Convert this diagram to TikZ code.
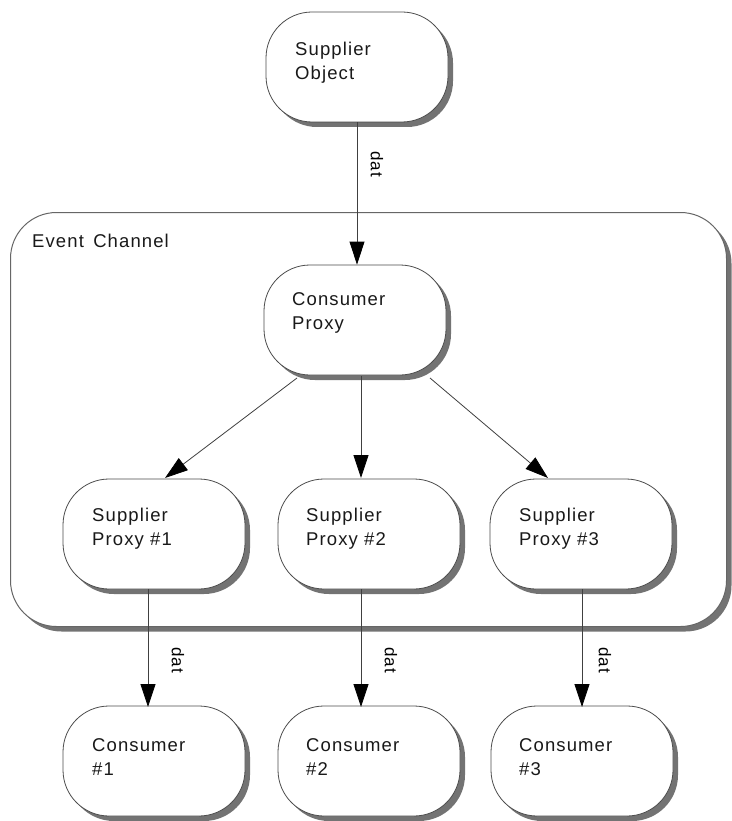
\documentclass[tikz,border=0pt]{standalone}
\usepackage{fontspec}
\setmainfont{Liberation Sans}[LetterSpace=6]
\usetikzlibrary{arrows.meta,shadows}
\begin{document}
\begin{tikzpicture}[x=1pt,y=-1pt,
  lbl/.style={font=\fontsize{18.5}{24}\selectfont, align=left, anchor=north west, inner sep=0pt, text=black!90},
  pill/.style={draw=black!70, line width=0.8pt, fill=white, rounded corners=46pt,
    minimum width=182pt, minimum height=110pt,
    drop shadow={shadow xshift=5pt, shadow yshift=-5pt, fill=black!55, opacity=1}},
  flow/.style={draw=black!75, line width=0.8pt, -{Triangle[length=23pt,width=15pt,fill=black,color=black]}},
  datlbl/.style={font=\fontsize{17}{20}\selectfont, rotate=-90, inner sep=0pt}]
\useasboundingbox (0,0) rectangle (731,821);

% event channel container
\node[draw=black!60, line width=1pt, fill=white, rounded corners=46pt,
  minimum width=716pt, minimum height=414pt,
  drop shadow={shadow xshift=5pt, shadow yshift=-5pt, fill=black!55, opacity=1}]
  (channel) at (368.5,419.5) {};
\node[lbl] (channeltxt) at (32,234) {Event\, Channel};

% supplier and proxies
\node[pill] (sobj) at (357,67) {};
\node[lbl] (sobjtxt) at (295,42) {Supplier\\Object};

\node[pill] (cproxy) at (355,320) {};
\node[lbl] (cproxytxt) at (292,292) {Consumer\\Proxy};

\node[pill] (sp1) at (154,534) {};
\node[lbl] (sp1txt) at (92,508) {Supplier\\Proxy \#1};
\node[pill] (sp2) at (369,534) {};
\node[lbl] (sp2txt) at (306,508) {Supplier\\Proxy \#2};
\node[pill] (sp3) at (581,534) {};
\node[lbl] (sp3txt) at (519,508) {Supplier\\Proxy \#3};

% consumers
\node[pill] (c1) at (154,761) {};
\node[lbl] (c1txt) at (92,738) {Consumer\\\#1};
\node[pill] (c2) at (369,761) {};
\node[lbl] (c2txt) at (306,738) {Consumer\\\#2};
\node[pill] (c3) at (582,761) {};
\node[lbl] (c3txt) at (519,738) {Consumer\\\#3};

% connectors
\draw[flow] (sobj.south -| 357,0) -- (cproxy.north -| 357,0);
\node[datlbl] (dat0) at (377,164) {dat};

\draw[flow] (297,378) -- (165,478);
\draw[flow] (361,376) -- (361,478);
\draw[flow] (430,378) -- (548,478);

\draw[flow] (148,589) -- (148,707);
\node[datlbl] (dat1) at (178,660) {dat};
\draw[flow] (361,589) -- (361,707);
\node[datlbl] (dat2) at (391,660) {dat};
\draw[flow] (582,589) -- (582,707);
\node[datlbl] (dat3) at (605,660) {dat};
\end{tikzpicture}
\end{document}
